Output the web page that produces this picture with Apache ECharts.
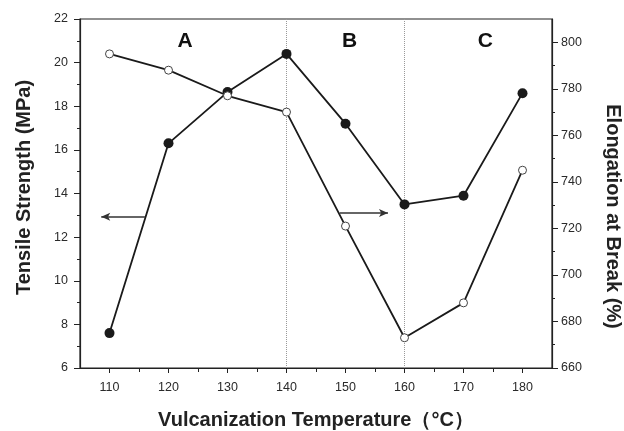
<!DOCTYPE html>
<html lang="en">
<head>
    <meta charset="UTF-8">
    <title>Vulcanization Temperature</title>
    <script src="https://cdn.jsdelivr.net/npm/echarts@6/dist/echarts.min.js"></script>
    <style>
        body {
            margin: 0;
            padding: 0;
            background-color: #fff;
        }
        #main {
            width: 624px;
            height: 431px;
        }
    </style>
</head>
<body>
<div id="main"></div>

<script>
    // data
    const temperatures = [110, 120, 130, 140, 150, 160, 170, 180];
    const tensileStrength = [7.6, 16.3, 18.65, 20.4, 17.2, 13.5, 13.9, 18.6];
    const elongation = [795, 788, 777, 770, 721, 673, 688, 745];

    const xTicks = [110, 120, 130, 140, 150, 160, 170, 180];
    const xMinorTicks = [115, 125, 135, 145, 155, 165, 175];
    const rightTicks = [660, 680, 700, 720, 740, 760, 780, 800];

    const regionNames = ['A', 'B', 'C'];
    const regionX = [122.8, 150.7, 173.7];
    const regionY = 21.0;
    const regionBounds = [140, 160];

    // arrows pointing to each series' axis
    const leftArrow = [[116.0, 12.93], [108.6, 12.93]];
    const rightArrow = [[149.0, 726.6], [157.2, 726.6]];

    const font = 'Liberation Sans, Arial, sans-serif';
    const ink = '#1a1a1a';

    const myChart = echarts.init(document.getElementById('main'));

    const tickLabel = {
        fontFamily: font,
        fontSize: 12.5,
        color: '#2a2a2a'
    };
    const titleStyle = {
        fontFamily: font,
        fontWeight: 'bold',
        fontSize: 20,
        color: '#222'
    };
    const axisLine = { show: true, lineStyle: { color: '#222', width: 1.2 } };
    const tickStyle = { color: '#222' };

    const option = {
        animation: false,
        backgroundColor: '#fff',
        grid: {
            left: 80,
            right: 72,
            top: 19,
            bottom: 63,
            outerBoundsMode: 'none',
            show: true,
            borderColor: '#222',
            borderWidth: 1.2
        },
        xAxis: [
            {
                type: 'value',
                min: 105,
                max: 185,
                position: 'bottom',
                name: 'Vulcanization Temperature（°C）',
                nameLocation: 'middle',
                nameGap: 42,
                nameTextStyle: titleStyle,
                axisLine: axisLine,
                axisTick: { show: true, length: 5, customValues: xTicks, lineStyle: tickStyle },
                axisLabel: Object.assign({ margin: 13, customValues: xTicks }, tickLabel),
                splitLine: { show: false }
            },
            {
                // minor ticks only
                type: 'value',
                min: 105,
                max: 185,
                position: 'bottom',
                axisLine: { show: false },
                axisTick: { show: true, length: 4, customValues: xMinorTicks, lineStyle: tickStyle },
                axisLabel: { show: false },
                splitLine: { show: false }
            }
        ],
        yAxis: [
            {
                type: 'value',
                position: 'left',
                min: 6,
                max: 22,
                interval: 2,
                name: 'Tensile Strength (MPa)',
                nameLocation: 'middle',
                nameGap: 46,
                nameTextStyle: Object.assign({ padding: [0, 0, 0, 12] }, titleStyle),
                axisLine: axisLine,
                axisTick: { show: true, length: 6, lineStyle: tickStyle },
                minorTick: { show: true, splitNumber: 2, length: 3, lineStyle: tickStyle },
                axisLabel: Object.assign({ margin: 12 }, tickLabel),
                splitLine: { show: false }
            },
            {
                type: 'value',
                position: 'right',
                min: 660,
                max: 810,
                interval: 20,
                name: 'Elongation at Break (%)',
                nameLocation: 'middle',
                nameGap: 51,
                nameRotate: -90,
                nameTextStyle: Object.assign({ padding: [0, 0, 0, 46] }, titleStyle),
                axisLine: axisLine,
                axisTick: { show: true, length: 6, customValues: rightTicks, lineStyle: tickStyle },
                minorTick: { show: true, splitNumber: 2, length: 3, lineStyle: tickStyle },
                axisLabel: Object.assign({ margin: 9, customValues: rightTicks }, tickLabel),
                splitLine: { show: false }
            }
        ],
        series: [
            {
                // dotted region dividers, kept under the data
                name: 'regions',
                type: 'line',
                z: 1,
                xAxisIndex: 0,
                yAxisIndex: 0,
                data: [],
                markLine: {
                    z: 1,
                    silent: true,
                    symbol: ['none', 'none'],
                    label: { show: false },
                    lineStyle: { color: '#999', type: 'dotted', width: 1 },
                    data: regionBounds.map(v => ({ xAxis: v }))
                }
            },
            {
                name: 'Tensile Strength',
                type: 'line',
                xAxisIndex: 0,
                yAxisIndex: 0,
                data: temperatures.map((t, i) => [t, tensileStrength[i]]),
                symbol: 'circle',
                symbolSize: 10,
                lineStyle: { color: ink, width: 1.8 },
                itemStyle: { color: ink },
                markLine: {
                    silent: true,
                    symbol: ['none', 'arrow'],
                    symbolSize: [6, 9],
                    label: { show: false },
                    lineStyle: { color: '#333', type: 'solid', width: 1.5 },
                    data: [
                        [{ coord: leftArrow[0] }, { coord: leftArrow[1] }]
                    ]
                },
                markPoint: {
                    silent: true,
                    symbol: 'circle',
                    symbolSize: 1,
                    itemStyle: { color: 'transparent' },
                    label: {
                        show: true,
                        position: 'inside',
                        formatter: '{b}',
                        fontFamily: font,
                        fontWeight: 'bold',
                        fontSize: 21,
                        color: '#111'
                    },
                    data: regionNames.map((n, i) => ({ name: n, coord: [regionX[i], regionY] }))
                }
            },
            {
                name: 'Elongation at Break',
                type: 'line',
                xAxisIndex: 0,
                yAxisIndex: 1,
                data: temperatures.map((t, i) => [t, elongation[i]]),
                symbol: 'circle',
                symbolSize: 8,
                lineStyle: { color: ink, width: 1.8 },
                itemStyle: { color: '#fff', borderColor: '#444', borderWidth: 1 },
                markLine: {
                    silent: true,
                    symbol: ['none', 'arrow'],
                    symbolSize: [6, 9],
                    label: { show: false },
                    lineStyle: { color: '#333', type: 'solid', width: 1.5 },
                    data: [
                        [{ coord: rightArrow[0] }, { coord: rightArrow[1] }]
                    ]
                }
            }
        ]
    };

    myChart.setOption(option);
</script>

</body>
</html>
